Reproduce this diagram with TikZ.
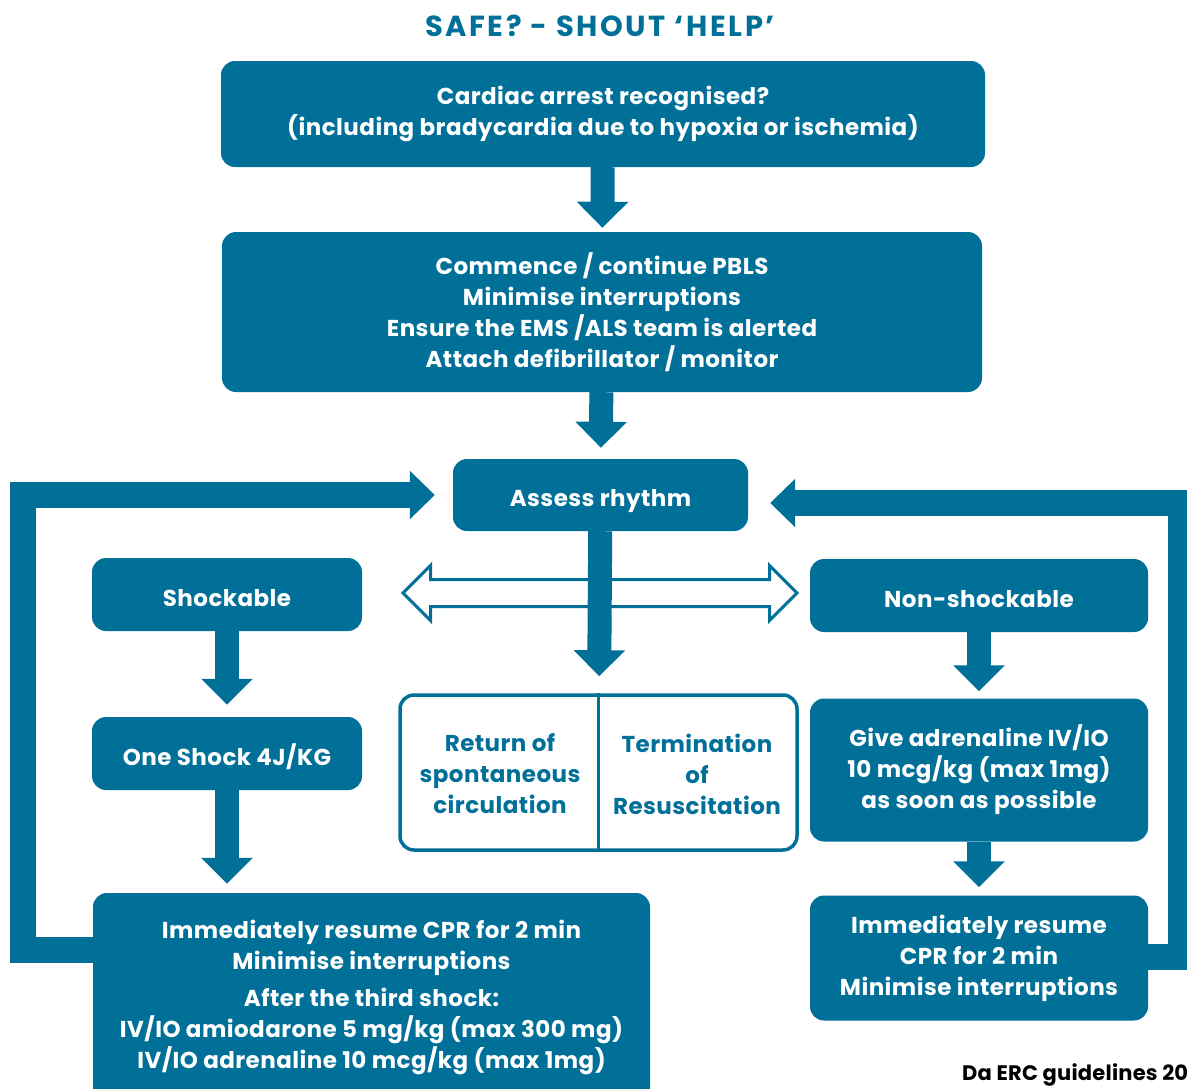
\documentclass[tikz,border=0pt]{standalone}
\usepackage{fontspec}
\setmainfont[LetterSpace=2]{Poppins}
\newfontfamily\titlefont[LetterSpace=9]{Poppins}
\newfontfamily\creditfont[LetterSpace=1]{Poppins}
\usetikzlibrary{arrows.meta,shapes.arrows}
\definecolor{ercblue}{RGB}{0,112,153}
\tikzset{
  box/.style={fill=ercblue, text=white, rounded corners=14pt, inner sep=0pt,
    align=center, font=\bfseries\fontsize{23}{31}\selectfont},
  oneline/.style={text height=25pt, text depth=2pt},
  outbox/.style={draw=ercblue, line width=3.5pt, rounded corners=14pt, inner sep=0pt},
  outtext/.style={text=ercblue, align=center, inner sep=0pt,
    font=\bfseries\fontsize{23}{31}\selectfont},
  flow/.style={draw=ercblue, line width=24pt, line join=miter,
    -{Triangle[length=26pt, width=50pt]}},
  loopback/.style={draw=ercblue, line width=26pt, line join=miter,
    -{Triangle[length=25pt, width=47pt]}}
}
\begin{document}
\begin{tikzpicture}[x=1pt, y=-1pt]
\useasboundingbox (0,0) rectangle (1187,1088);

% heading
\node[text=ercblue, font=\titlefont\bfseries\fontsize{29}{32}\selectfont] (title) at (600,26) {SAFE? - SHOUT ‘HELP’};

% boxes
\node[box, minimum width=764pt, minimum height=106pt] (recog) at (603,114)
  {Cardiac arrest recognised?\\(including bradycardia due to hypoxia or ischemia)};
\node[box, minimum width=760pt, minimum height=160pt] (pbls) at (602,312)
  {Commence / continue PBLS\\Minimise interruptions\\Ensure the EMS /ALS team is alerted\\Attach defibrillator / monitor};
\node[box, oneline, minimum width=295pt, minimum height=72pt] (assess) at (600.5,495) {Assess rhythm};
\node[box, oneline, minimum width=270pt, minimum height=73pt] (shock) at (227,594.5) {Shockable};
\node[box, oneline, minimum width=270pt, minimum height=73pt] (oneshock) at (227,753.5) {One Shock 4J/KG};
\node[box, minimum width=557pt, minimum height=208pt] (cprleft) at (371.5,997)
  {Immediately resume CPR for 2 min\\Minimise interruptions\\[6pt]After the third shock:\\IV/IO amiodarone 5 mg/kg (max 300 mg)\\IV/IO adrenaline 10 mcg/kg (max 1mg)};
\node[box, oneline, minimum width=338pt, minimum height=73pt] (nonshock) at (979,595.5) {Non-shockable};
\node[box, minimum width=338pt, minimum height=143pt] (adren) at (979,770)
  {Give adrenaline IV/IO\\10 mcg/kg (max 1mg)\\as soon as possible};
\node[box, minimum width=338pt, minimum height=125pt] (cprright) at (979,958)
  {Immediately resume\\CPR for 2 min\\Minimise interruptions};

% outcome box
\node[outbox, minimum width=397pt, minimum height=155pt] (outcome) at (598.5,772.5) {};
\draw[ercblue, line width=3.5pt] (outcome.north) -- (outcome.south);
\node[outtext] (rosc) at (500,774) {Return of\\spontaneous\\circulation};
\node[outtext] (tor) at (697,774) {Termination\\of\\Resuscitation};

% open double arrow
\node[double arrow, draw=ercblue, fill=white, line width=3pt, minimum height=394pt,
  inner xsep=0pt, inner ysep=12pt, double arrow head extend=14pt] (split) at (600,593) {};

% connectors
\draw[flow, shorten >=4pt] (recog) -- (pbls);
\draw[flow, shorten >=11pt] (pbls) -- (assess);
\draw[flow, shorten >=17pt] (assess) -- (outcome);
\draw[flow, shorten >=12pt] (shock) -- (oneshock);
\draw[flow, shorten >=9pt] (oneshock.south) -- (oneshock.south |- cprleft.north);
\draw[flow, shorten >=7pt] (nonshock) -- (adren);
\draw[flow, shorten >=8pt] (adren) -- (cprright);

\draw[loopback, shorten >=18pt] (cprleft.west |- 0,950) -- (23,950) |- (assess.west);
\draw[loopback, shorten >=22pt] (cprright.east |- 0,957) -- (1181,957) |- ([yshift=-8pt]assess.east);

\node[anchor=base west, inner sep=0pt, font=\creditfont\bfseries\fontsize{21}{24}\selectfont] (credit) at (962,1080) {Da ERC guidelines 20};
\end{tikzpicture}
\end{document}
